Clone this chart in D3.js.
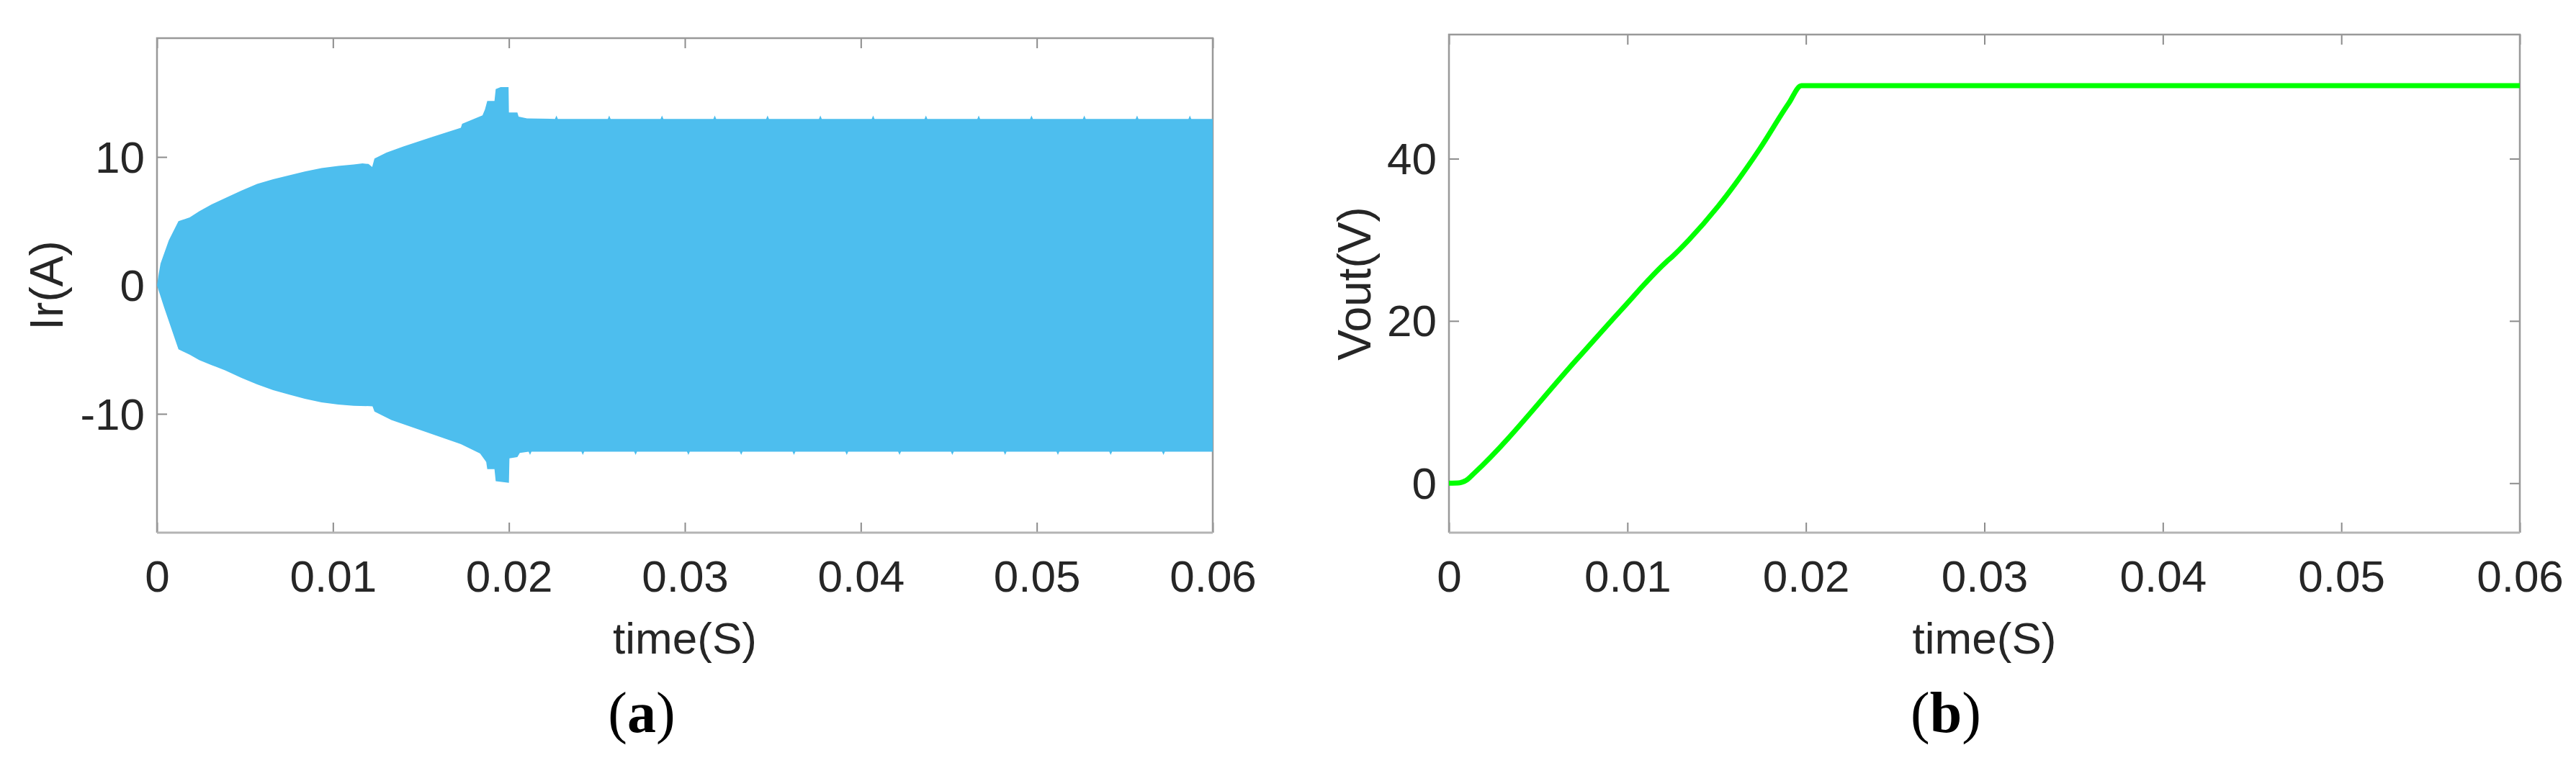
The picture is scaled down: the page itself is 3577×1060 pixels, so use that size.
<!DOCTYPE html>
<html>
<head>
<meta charset="utf-8">
<script src="https://cdn.jsdelivr.net/npm/d3@7"></script>
<style>
  body { margin: 0; background: #fff; }
  svg { display: block; }
</style>
</head>
<body>
<svg id="fig" width="3577" height="1060"></svg>
<script>
// shared time axis
var timeTicks = [0, 0.01, 0.02, 0.03, 0.04, 0.05, 0.06];
var timeLabels = ["0", "0.01", "0.02", "0.03", "0.04", "0.05", "0.06"];

// (a) resonant current Ir, drawn as its envelope (carrier too dense to resolve)
var irTicks = [-10, 0, 10];
var irUpperT = [0, 0.0001, 0.0002, 0.00067, 0.00122, 0.00186, 0.0024, 0.0031, 0.00387, 0.0048,
  0.00569, 0.0066, 0.00752, 0.0084, 0.00935, 0.0103, 0.01118, 0.01168, 0.01202, 0.01223,
  0.01236, 0.01304, 0.0140, 0.01564, 0.01727, 0.01734, 0.0185, 0.01864, 0.01877, 0.01918,
  0.01925, 0.01953, 0.01998, 0.0200, 0.02048, 0.02055, 0.02103, 0.06];
var irUpper = [0, 0.9, 1.7, 3.5, 5.0, 5.3, 5.77, 6.3, 6.8, 7.38,
  7.9, 8.27, 8.57, 8.87, 9.13, 9.3, 9.42, 9.5, 9.45, 9.22,
  9.88, 10.34, 10.81, 11.56, 12.27, 12.58, 13.24, 13.7, 14.36, 14.36,
  15.29, 15.44, 15.44, 13.46, 13.46, 13.14, 13.0, 12.96];
var irLowerT = [0, 0.0004, 0.00122, 0.00186, 0.0024, 0.0031, 0.00387, 0.0048, 0.00569, 0.0066,
  0.00752, 0.0084, 0.00935, 0.0103, 0.01118, 0.01209, 0.01225, 0.01236, 0.01332, 0.01509,
  0.01727, 0.01836, 0.01871, 0.01877, 0.01918, 0.01925, 0.0200, 0.02003, 0.02048, 0.02062,
  0.0215, 0.06];
var irLower = [0, -1.7, -4.97, -5.4, -5.81, -6.2, -6.61, -7.2, -7.71, -8.15,
  -8.51, -8.83, -9.11, -9.27, -9.37, -9.4, -9.42, -9.82, -10.48, -11.32,
  -12.35, -13.09, -13.75, -14.31, -14.31, -15.24, -15.37, -13.47, -13.37, -13.05,
  -12.94, -12.94];
// small switching spikes on the steady-state envelope
var irSpikeUpT = [0.0227, 0.0257, 0.0287, 0.0317, 0.0347, 0.0377, 0.0407, 0.0437, 0.0467, 0.0497, 0.0527, 0.0557, 0.0587];
var irSpikeUp = 13.22;
var irSpikeDownT = [0.0212, 0.0242, 0.0272, 0.0302, 0.0332, 0.0362, 0.0392, 0.0422, 0.0452, 0.0482, 0.0512, 0.0542, 0.0572];
var irSpikeDown = -13.2;

// (b) output voltage
var voutT = [0, 0.0006, 0.001, 0.0014, 0.00714, 0.00967, 0.01219, 0.0125, 0.01345, 0.01507,
  0.01741, 0.01903, 0.01975, 0.06];
var voutV = [0, 0.05, 0.4, 1.2, 15.2, 21.4, 27.3, 27.9, 30.0, 34.1,
  41.2, 46.8, 49.0, 49.0];
var voutTicks = [0, 20, 40];

var svg = d3.select("#fig");
var font = "'Liberation Sans', Arial, Helvetica, sans-serif";
var tickLen = 14;

function addSpikes(ts, vs, spikeT, spikeV) {
  var pts = ts.map(function(t, i) { return [t, vs[i]]; });
  spikeT.forEach(function(t) {
    var base = vs[vs.length - 1];
    pts.push([t - 0.00008, base], [t, spikeV], [t + 0.00008, base]);
  });
  return pts.sort(function(a, b) { return a[0] - b[0]; });
}

function frame(x, y, yTicks, yTitle, yTitleX, caption, captionX) {
  var g = svg.append("g");
  var x0 = x.range()[0], x1 = x.range()[1];
  var yb = y.range()[0], yt = y.range()[1];

  function style(ax) {
    ax.select(".domain").remove();
    ax.selectAll("line").attr("stroke", "#8c8c8c").attr("stroke-width", 2);
    ax.selectAll("text").attr("fill", "#262626");
    ax.attr("font-size", 62).attr("font-family", font);
  }

  g.append("g").attr("transform", "translate(0," + yb + ")")
    .call(d3.axisBottom(x).tickValues(timeTicks)
      .tickFormat(function(d, i) { return timeLabels[i]; })
      .tickSize(-tickLen).tickPadding(38))
    .call(style);
  g.append("g").attr("transform", "translate(0," + yt + ")")
    .call(d3.axisTop(x).tickValues(timeTicks).tickFormat("").tickSize(-tickLen))
    .call(style);
  g.append("g").attr("transform", "translate(" + x0 + ",0)")
    .call(d3.axisLeft(y).tickValues(yTicks)
      .tickFormat(function(d) { return String(d); })
      .tickSize(-tickLen).tickPadding(17))
    .call(style)
    .selectAll("text").attr("dy", "0.34em");
  g.append("g").attr("transform", "translate(" + x1 + ",0)")
    .call(d3.axisRight(y).tickValues(yTicks).tickFormat("").tickSize(-tickLen))
    .call(style);

  // box
  g.append("path")
    .attr("d", "M" + x0 + "," + yb + "V" + yt + "H" + x1 + "V" + yb)
    .attr("fill", "none").attr("stroke", "#999").attr("stroke-width", 2.5);
  g.append("line")
    .attr("x1", x0).attr("x2", x1).attr("y1", yb).attr("y2", yb)
    .attr("stroke", "#b4b4b4").attr("stroke-width", 3);

  // titles
  g.append("text")
    .attr("x", (x0 + x1) / 2).attr("y", 908)
    .attr("text-anchor", "middle")
    .attr("font-family", font).attr("font-size", 62).attr("fill", "#262626")
    .text("time(S)");
  g.append("text")
    .attr("transform", "translate(" + yTitleX + "," + (yt + yb) / 2 + ") rotate(-90)")
    .attr("text-anchor", "middle")
    .attr("font-family", font).attr("font-size", 64).attr("fill", "#262626")
    .text(yTitle);

  var cap = g.append("text")
    .attr("x", captionX).attr("y", 1017)
    .attr("text-anchor", "middle")
    .attr("font-family", "'Liberation Serif', 'Times New Roman', serif")
    .attr("font-size", 80).attr("fill", "#000");
  cap.append("tspan").text("(");
  cap.append("tspan").attr("font-weight", "bold").text(caption);
  cap.append("tspan").text(")");
  return g;
}

// ---- panel (a)
var xa = d3.scaleLinear().domain([0, 0.06]).range([218, 1684]);
var ya = d3.scaleLinear().domain([-19.25, 19.25]).range([740, 53]);
frame(xa, ya, irTicks, "Ir(A)", 87, "a", 891);

var upper = addSpikes(irUpperT, irUpper, irSpikeUpT, irSpikeUp);
var lower = addSpikes(irLowerT, irLower, irSpikeDownT, irSpikeDown);
var outline = upper.concat(lower.slice().reverse());

var envLine = d3.line()
  .x(function(d) { return xa(d[0]); })
  .y(function(d) { return ya(d[1]); });

svg.append("path")
  .datum(outline)
  .attr("fill", "#4DBEEE")
  .attr("d", function(d) { return envLine(d) + "Z"; });

// ---- panel (b)
var xb = d3.scaleLinear().domain([0, 0.06]).range([2012, 3499]);
var yb = d3.scaleLinear().domain([-6.1, 55.3]).range([740, 48]);
frame(xb, yb, voutTicks, "Vout(V)", 1903, "b", 2702);

svg.append("path")
  .datum(voutT.map(function(t, i) { return [t, voutV[i]]; }))
  .attr("fill", "none")
  .attr("stroke", "#00FF00")
  .attr("stroke-width", 7)
  .attr("stroke-linejoin", "round")
  .attr("d", d3.line()
    .curve(d3.curveMonotoneX)
    .x(function(d) { return xb(d[0]); })
    .y(function(d) { return yb(d[1]); }));
</script>
</body>
</html>
